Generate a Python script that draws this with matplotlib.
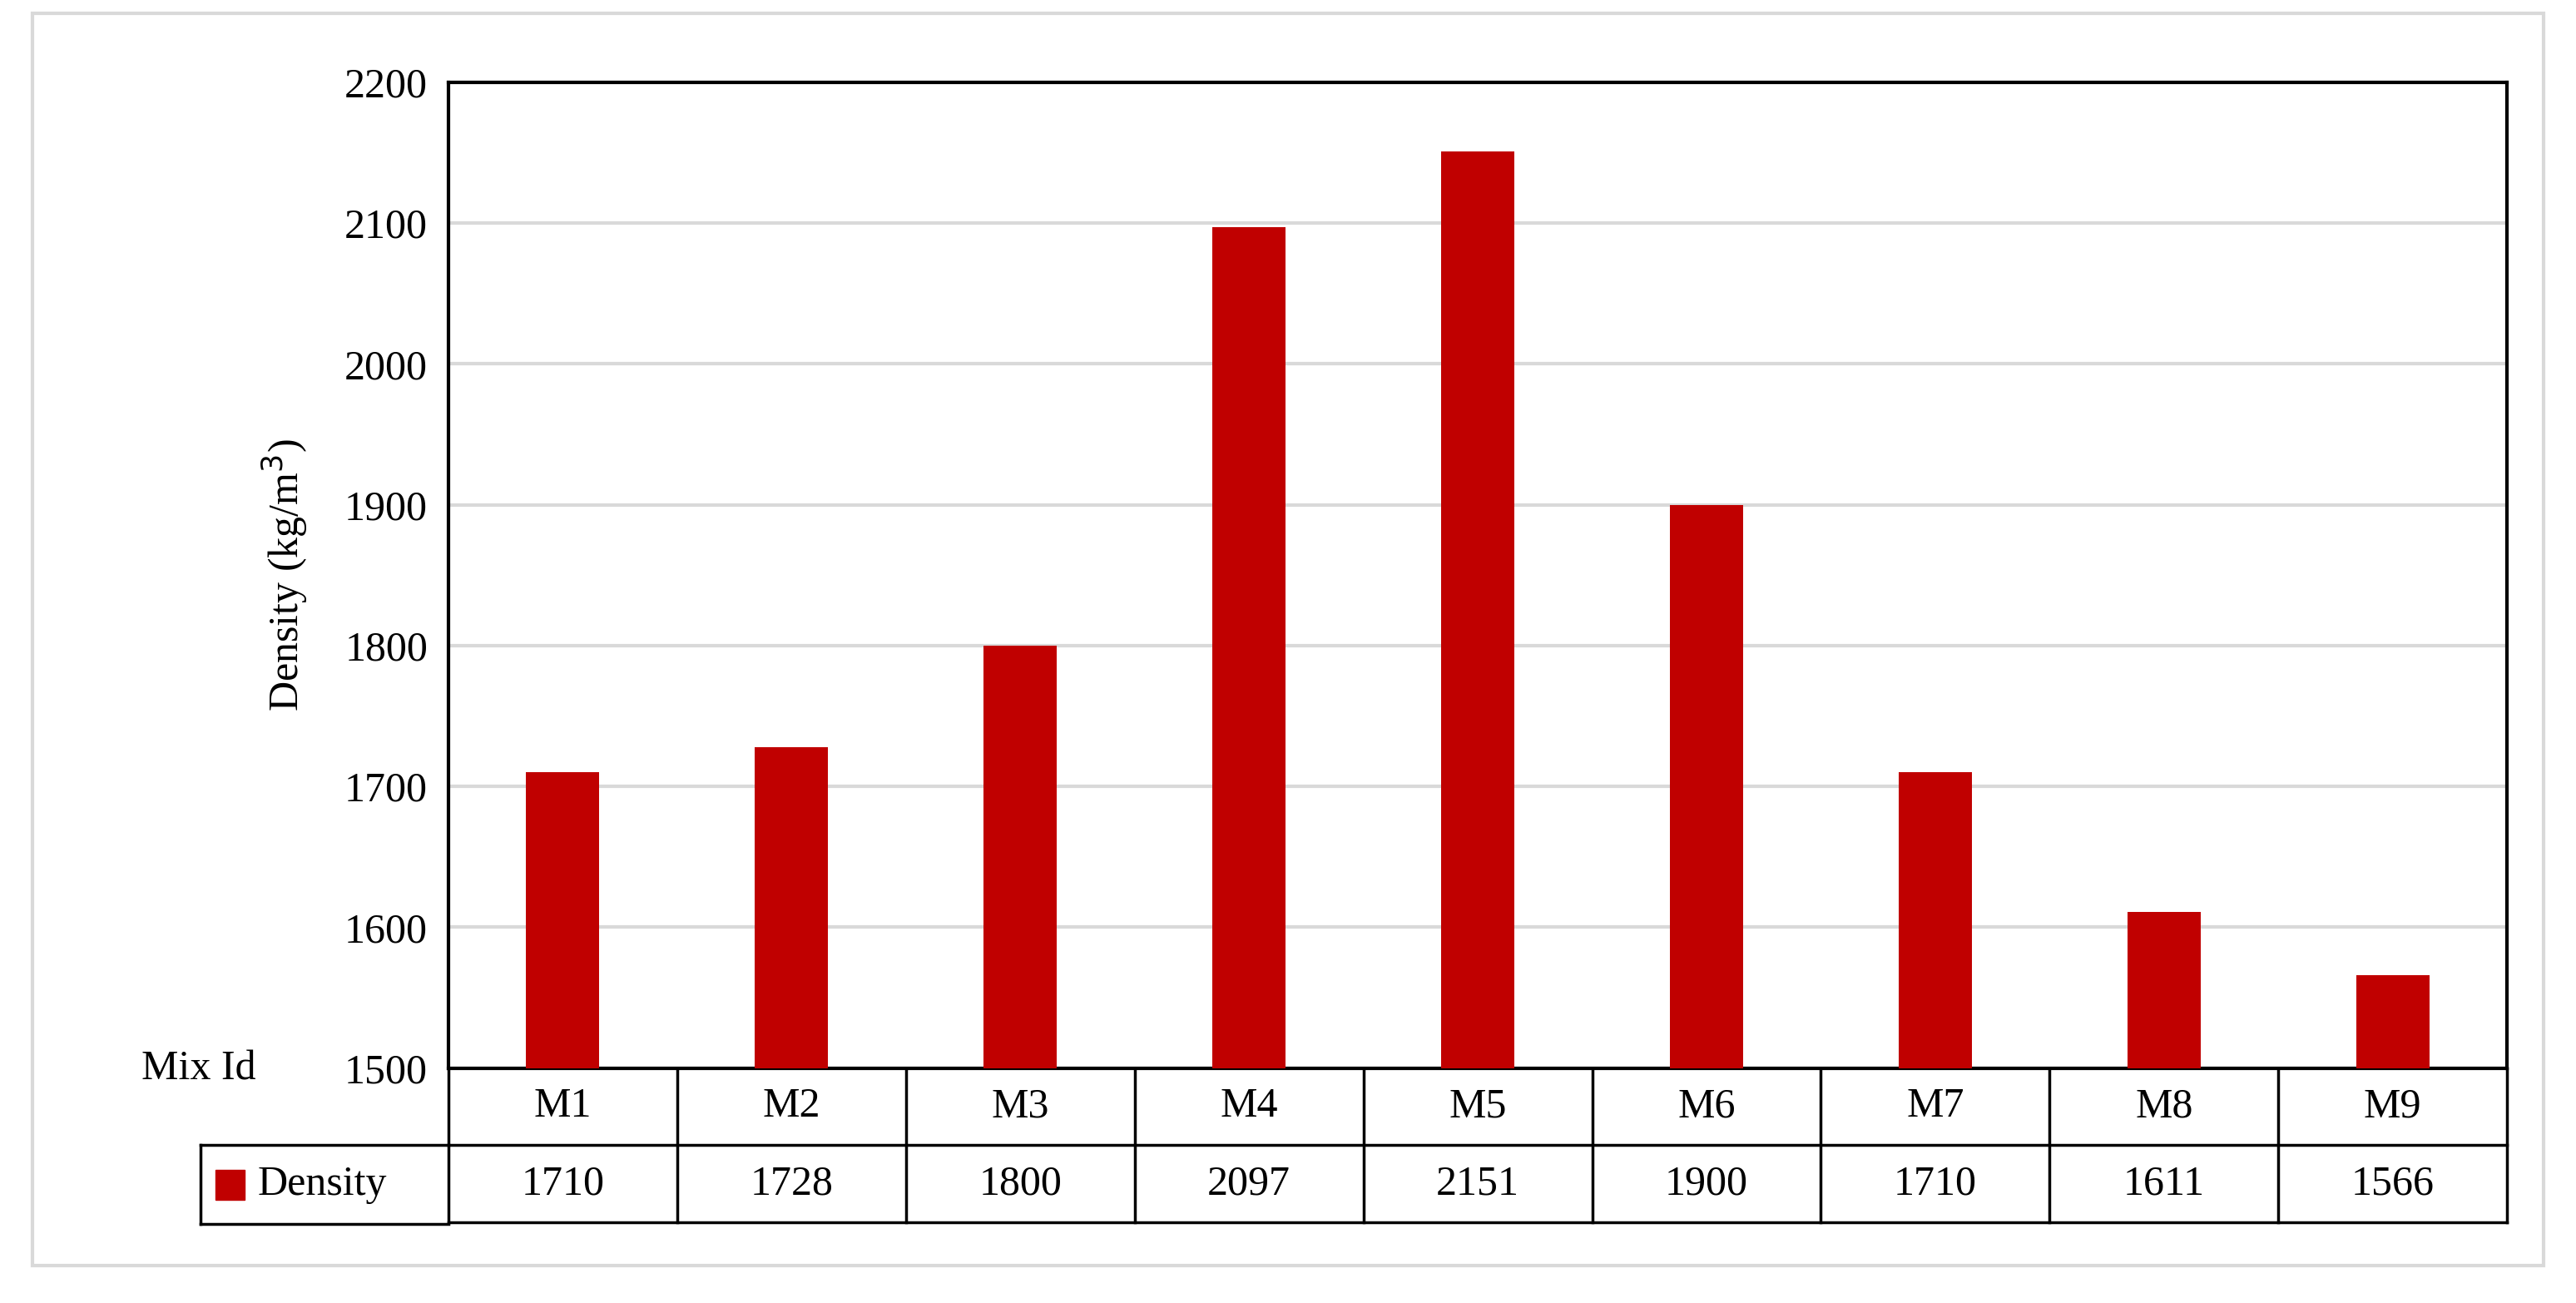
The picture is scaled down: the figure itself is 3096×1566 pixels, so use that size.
import matplotlib.pyplot as plt
from matplotlib.patches import Rectangle

mixes = ['M1', 'M2', 'M3', 'M4', 'M5', 'M6', 'M7', 'M8', 'M9']
density = [1710, 1728, 1800, 2097, 2151, 1900, 1710, 1611, 1566]
yticks = [1500, 1600, 1700, 1800, 1900, 2000, 2100, 2200]

plt.rcParams['font.family'] = ['Liberation Serif', 'DejaVu Serif']
W, H = 1568, 793  # layout units (reference scaled)
fig = plt.figure(figsize=(30.96, 15.66), dpi=100)
fs = 36
red = '#C00000'

ax = fig.add_axes([273 / W, 1 - 650 / H, (1526 - 273) / W, 600 / H])
x = list(range(len(mixes)))
ax.bar(x, density, width=0.32, color=red, zorder=3)
ax.set_xlim(-0.5, len(mixes) - 0.5)
ax.set_ylim(1500, 2200)
ax.set_yticks(yticks)
ax.set_xticks([])
ax.tick_params(axis='y', length=0, labelsize=fs, pad=18)
ax.yaxis.grid(True, color='#d9d9d9', linewidth=3, zorder=0)
for s in ax.spines.values():
    s.set_linewidth(3)
ax.set_ylabel('Density (kg/m$^3$)', fontsize=fs, labelpad=30)

# data table under the axis
rh = 47 / 600
lw = 2.5
tr = ax.get_xaxis_transform()
ax.plot([-0.5, 8.5], [-rh, -rh], transform=tr, color='k', lw=lw, clip_on=False)
ax.plot([-0.5, 8.5], [-2 * rh, -2 * rh], transform=tr, color='k', lw=lw, clip_on=False)
for i in range(len(mixes) + 1):
    ax.plot([i - 0.5, i - 0.5], [0, -2 * rh], transform=tr, color='k', lw=lw, clip_on=False)
for i, (m, d) in enumerate(zip(mixes, density)):
    ax.text(i, -0.5 * rh, m, transform=tr, ha='center', va='center', fontsize=fs)
    ax.text(i, -1.5 * rh, str(d), transform=tr, ha='center', va='center', fontsize=fs)

# legend cell at left of the table
y1, y2 = 1 - 697 / H, 1 - 745 / H
fig.add_artist(plt.Line2D([122 / W, 273 / W], [y1, y1], color='k', lw=lw))
fig.add_artist(plt.Line2D([122 / W, 273 / W], [y2, y2], color='k', lw=lw))
fig.add_artist(plt.Line2D([122 / W, 122 / W], [y1, y2], color='k', lw=lw))
fig.add_artist(Rectangle((131 / W, 1 - 730 / H), 18 / W, 18 / H, color=red))
fig.text(157 / W, (y1 + y2) / 2, 'Density', fontsize=fs, ha='left', va='center')
fig.text(156 / W, 1 - 651 / H, 'Mix Id', fontsize=fs, ha='right', va='center')

# outer frame
fig.add_artist(Rectangle((20 / W, 1 - 770 / H), 1528 / W, 762 / H, fill=False,
                         edgecolor='#d9d9d9', lw=3))

fig.savefig('out.png', dpi=100)
